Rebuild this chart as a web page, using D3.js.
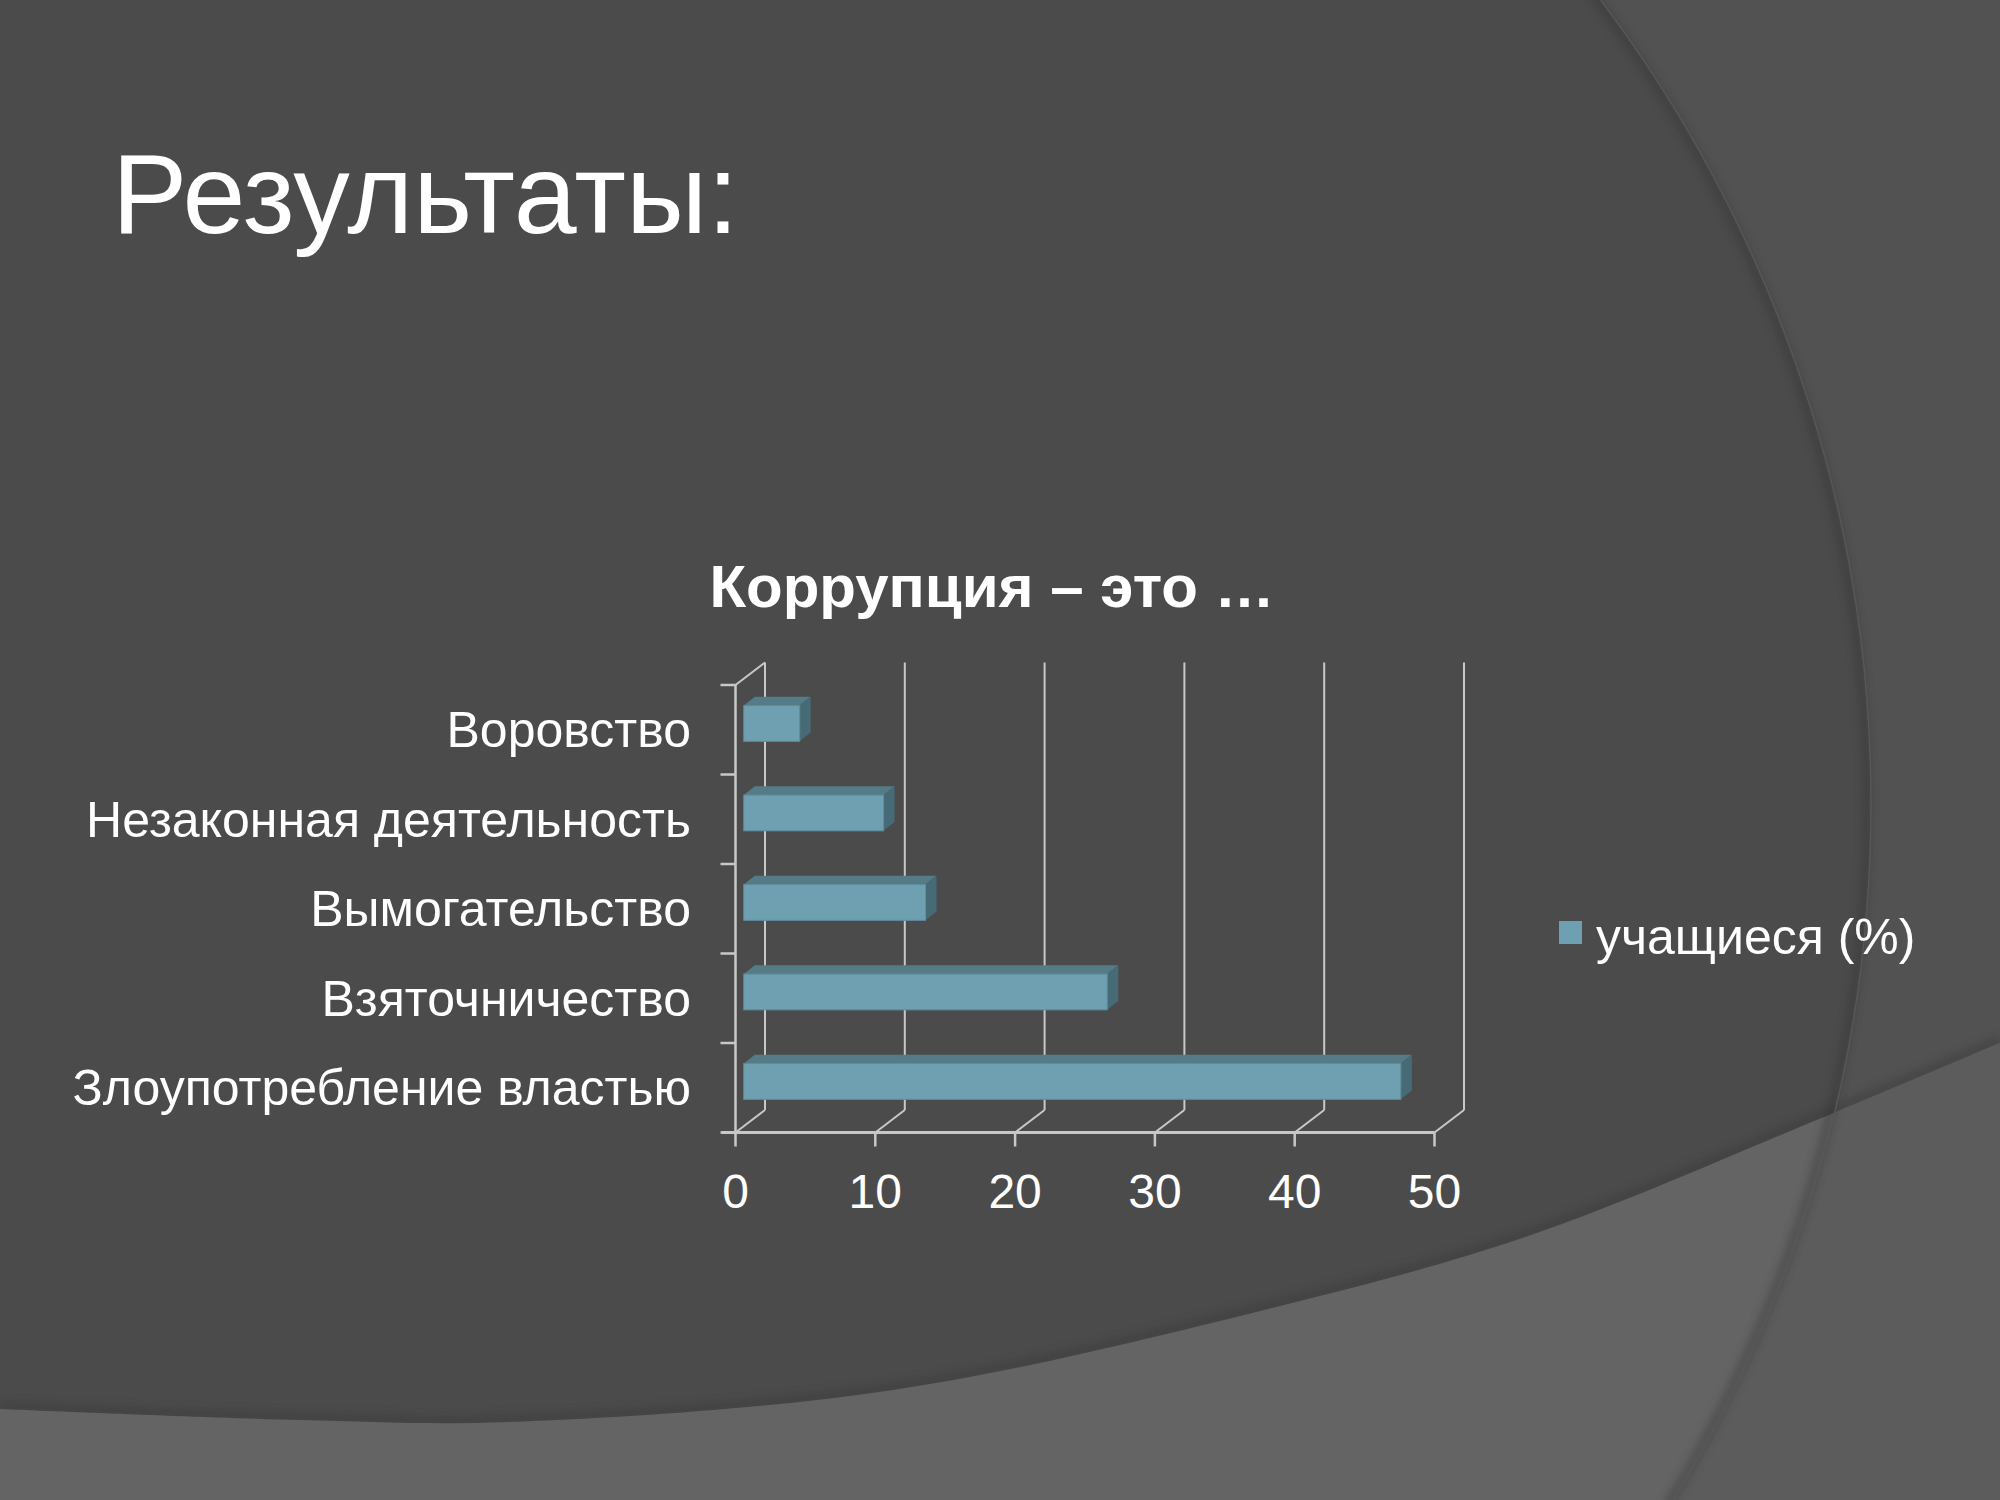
<!DOCTYPE html>
<html>
<head>
<meta charset="utf-8">
<script src="https://cdn.jsdelivr.net/npm/d3@7"></script>
<style>
  html, body { margin: 0; padding: 0; background: #4b4b4b; }
  svg { display: block; }
</style>
</head>
<body>
<script>
// ---- data ----
const categories = ["Воровство", "Незаконная деятельность", "Вымогательство", "Взяточничество", "Злоупотребление властью"];
const values = [4, 10, 13, 26, 47];
const xTicks = [0, 10, 20, 30, 40, 50];
const seriesName = "учащиеся (%)";
const pageTitle = "Результаты:";
const chartTitle = "Коррупция – это …";

// ---- setup ----
const W = 2000, H = 1500;
const svg = d3.select("body").append("svg").attr("width", W).attr("height", H);
const defs = svg.append("defs");

// ---- background ----
svg.append("rect").attr("width", W).attr("height", H).attr("fill", "#4b4b4b");

const ecx = 481, ecy = 804, erx = 1390, ery = 1357;
const outsidePath = `M0,0H${W}V${H}H0Z M${ecx - erx},${ecy} a${erx},${ery} 0 1,0 ${2 * erx},0 a${erx},${ery} 0 1,0 ${-2 * erx},0 Z`;
defs.append("clipPath").attr("id", "outsideEllipse")
  .append("path").attr("d", outsidePath).attr("clip-rule", "evenodd");

const blur = defs.append("filter").attr("id", "soft").attr("x", "-10%").attr("y", "-10%").attr("width", "120%").attr("height", "120%");
blur.append("feGaussianBlur").attr("stdDeviation", 4);

// right region beyond the big arc
svg.append("rect").attr("width", W).attr("height", H).attr("fill", "#525252")
  .attr("clip-path", "url(#outsideEllipse)");

// bottom wave region
const wavePts = [[0, 1409], [300, 1420], [510, 1422], [893, 1390], [1276, 1307], [1531, 1235], [1824, 1117], [2000, 1043]];
const waveLine = d3.line().curve(d3.curveCatmullRom.alpha(0.5));
const waveD = waveLine(wavePts) + `L${W},${H}L0,${H}Z`;
// shadow above wave
svg.append("path").attr("d", waveLine(wavePts)).attr("fill", "none")
  .attr("stroke", "#3a3a3a").attr("stroke-width", 8).attr("opacity", 0.6)
  .attr("transform", "translate(0,-3)").attr("filter", "url(#soft)");
svg.append("path").attr("d", waveD).attr("fill", "#646464");
svg.append("path").attr("d", waveD).attr("fill", "#5c5c5c").attr("clip-path", "url(#outsideEllipse)");

// arc shadow
svg.append("ellipse").attr("cx", ecx - 4).attr("cy", ecy).attr("rx", erx).attr("ry", ery)
  .attr("fill", "none").attr("stroke", "#333").attr("stroke-width", 8).attr("opacity", 0.45)
  .attr("filter", "url(#soft)");
svg.append("ellipse").attr("cx", ecx).attr("cy", ecy).attr("rx", erx).attr("ry", ery)
  .attr("fill", "none").attr("stroke", "#575757").attr("stroke-width", 1.5);

// ---- page title ----
svg.append("text").attr("x", 112).attr("y", 233)
  .attr("font-family", "'Liberation Sans', Arial, sans-serif").attr("font-size", 113)
  .attr("fill", "#ffffff").text(pageTitle);

// ---- chart ----
const font = "'Liberation Sans', Arial, sans-serif";
const x = d3.scaleLinear().domain([0, 50]).range([735.5, 1434.5]);
const y = d3.scaleBand().domain(categories).range([685, 1132.5]).paddingInner(0).paddingOuter(0);
const DX = 29.5, DY = -22.5;            // depth of the 3D box
const f0 = 0.28, fd = 0.37;             // bar front offset and bar depth as fraction of box depth
const barH = y.bandwidth() * 0.4;
const floorY = y.range()[1], topY = y.range()[0];
const gridCol = "#c8c8c8";

const g = svg.append("g");

// back wall vertical gridlines
g.selectAll("line.grid").data(xTicks).join("line")
  .attr("x1", d => x(d) + DX).attr("x2", d => x(d) + DX)
  .attr("y1", topY + DY).attr("y2", floorY + DY)
  .attr("stroke", gridCol).attr("stroke-width", 2);
// floor diagonals
g.selectAll("line.fdiag").data(xTicks).join("line")
  .attr("x1", d => x(d)).attr("x2", d => x(d) + DX)
  .attr("y1", floorY).attr("y2", floorY + DY)
  .attr("stroke", gridCol).attr("stroke-width", 2);
// left wall top diagonal
g.append("line").attr("x1", x(0)).attr("y1", topY).attr("x2", x(0) + DX).attr("y2", topY + DY)
  .attr("stroke", gridCol).attr("stroke-width", 2);
// front axes
g.append("line").attr("x1", x(0)).attr("y1", topY).attr("x2", x(0)).attr("y2", floorY)
  .attr("stroke", gridCol).attr("stroke-width", 2.5);
g.append("line").attr("x1", x(0) - 14).attr("y1", floorY).attr("x2", x(50)).attr("y2", floorY)
  .attr("stroke", gridCol).attr("stroke-width", 3);

// category ticks
const catTicks = categories.map(c => y(c)).concat([floorY]);
g.selectAll("line.ct").data(catTicks).join("line")
  .attr("x1", x(0) - 15).attr("x2", x(0)).attr("y1", d => d).attr("y2", d => d)
  .attr("stroke", gridCol).attr("stroke-width", 2.5);
// value ticks
g.selectAll("line.vt").data(xTicks).join("line")
  .attr("x1", d => x(d)).attr("x2", d => x(d)).attr("y1", floorY).attr("y2", floorY + 14)
  .attr("stroke", gridCol).attr("stroke-width", 2.5);

// bars (3D)
const ox = DX * f0, oy = DY * f0, bdx = 11, bdy = -8.8;
const bars = g.selectAll("g.bar").data(categories.map((c, i) => ({ c, v: values[i] }))).join("g");
bars.each(function (d) {
  const sel = d3.select(this);
  const x0 = x(0) + ox, x1 = x(d.v) + ox;
  const yc = y(d.c) + y.bandwidth() / 2 + oy;
  const y0 = yc - barH / 2, y1 = yc + barH / 2;
  // top face
  sel.append("path")
    .attr("d", `M${x0},${y0}L${x0 + bdx},${y0 + bdy}L${x1 + bdx},${y0 + bdy}L${x1},${y0}Z`)
    .attr("fill", "#557b87");
  // side face
  sel.append("path")
    .attr("d", `M${x1},${y0}L${x1 + bdx},${y0 + bdy}L${x1 + bdx},${y1 + bdy}L${x1},${y1}Z`)
    .attr("fill", "#476b76");
  // front face
  sel.append("rect").attr("x", x0).attr("y", y0).attr("width", x1 - x0).attr("height", barH)
    .attr("fill", "#6fa0b2").attr("stroke", "#5f8e9f").attr("stroke-width", 1);
});

// category labels
g.selectAll("text.cat").data(categories).join("text")
  .attr("x", 691).attr("y", d => y(d) + y.bandwidth() / 2).attr("dy", "0.35em")
  .attr("text-anchor", "end").attr("font-family", font).attr("font-size", 50)
  .attr("fill", "#ffffff").text(d => d);

// value tick labels
g.selectAll("text.vl").data(xTicks).join("text")
  .attr("x", d => x(d)).attr("y", 1208).attr("text-anchor", "middle")
  .attr("font-family", font).attr("font-size", 48).attr("fill", "#ffffff").text(d => d);

// chart title
svg.append("text").attr("x", 992).attr("y", 607).attr("text-anchor", "middle")
  .attr("font-family", font).attr("font-weight", "bold").attr("font-size", 60)
  .attr("fill", "#ffffff").text(chartTitle);

// legend
svg.append("rect").attr("x", 1559).attr("y", 921).attr("width", 23).attr("height", 23).attr("fill", "#6fa0b2");
svg.append("text").attr("x", 1596).attr("y", 954).attr("font-family", font).attr("font-size", 50)
  .attr("fill", "#ffffff").text(seriesName);
</script>
</body>
</html>
